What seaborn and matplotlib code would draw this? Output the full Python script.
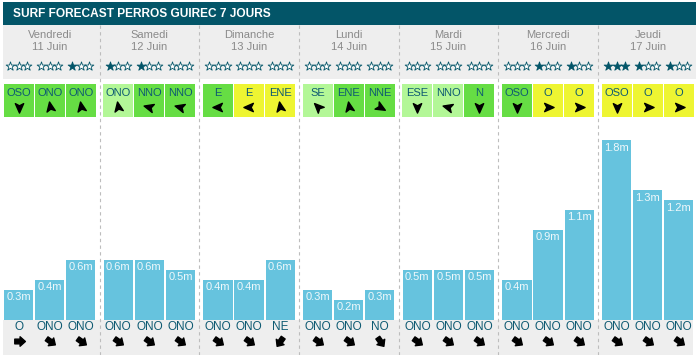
import numpy as np
import pandas as pd
import matplotlib
matplotlib.use("Agg")
import matplotlib.pyplot as plt
import seaborn as sns
from matplotlib.patches import Rectangle
from matplotlib.path import Path
from matplotlib.markers import MarkerStyle
from matplotlib.transforms import Affine2D

# ---------------- data ----------------
title = "SURF FORECAST PERROS GUIREC 7 JOURS"
days = ["Vendredi", "Samedi", "Dimanche", "Lundi", "Mardi", "Mercredi", "Jeudi"]
dates = ["11 Juin", "12 Juin", "13 Juin", "14 Juin", "15 Juin", "16 Juin", "17 Juin"]
wave_heights = [0.3, 0.4, 0.6, 0.6, 0.6, 0.5, 0.4, 0.4, 0.6, 0.3, 0.2, 0.3,
                0.5, 0.5, 0.5, 0.4, 0.9, 1.1, 1.8, 1.3, 1.2]
stars = [0, 0, 1, 1, 1, 0, 0, 0, 0, 0, 0, 0, 0, 0, 0, 0, 1, 1, 3, 1, 1]
wind_dirs = ["OSO", "ONO", "ONO", "ONO", "NNO", "NNO", "E", "E", "ENE",
             "SE", "ENE", "NNE", "ESE", "NNO", "N", "OSO", "O", "O", "OSO", "O", "O"]
wind_class = ["G", "G", "G", "L", "G", "G", "G", "Y", "Y", "L", "G", "G",
              "L", "L", "G", "G", "Y", "Y", "Y", "Y", "Y"]
wind_arrow_angles = [-90, 100, 100, 100, 165, 165, 180, 180, 100, 135, 100, -30,
                     -90, 165, -90, -90, 0, 0, -90, 0, 0]
swell_dirs = ["O", "ONO", "ONO", "ONO", "ONO", "ONO", "ONO", "ONO", "NE",
              "ONO", "ONO", "NO", "ONO", "ONO", "ONO", "ONO", "ONO", "ONO",
              "ONO", "ONO", "ONO"]
swell_arrow_angles = {"O": 0, "ONO": -35, "NE": -125, "NO": -55}
slots = ["a", "b", "c"]

# ---------------- styles ----------------
TEAL = "#035568"
TXT_TEAL = "#0e5a72"
GREY_BG = "#eeeeee"
BAR = "#66c3de"
BOX_COL = {"G": "#66dd44", "L": "#b3f797", "Y": "#eef532"}
FONT = "Liberation Sans"

W, H = 696, 355
fig = plt.figure(figsize=(W / 100, H / 100), dpi=100)
ax = fig.add_axes([0, 0, 1, 1])

DAY_PX = 99.67
X0_PX = 49.7


def xd(px):
    return (px - X0_PX) / DAY_PX


def yd(py):
    return (320 - py) / 100.0


df = pd.DataFrame({
    "day": np.repeat(days, 3),
    "slot": slots * 7,
    "height": wave_heights,
})

group_w = 0.935
sns.barplot(data=df, x="day", y="height", hue="slot", order=days, hue_order=slots,
            palette=[BAR] * 3, width=group_w, gap=0.06, errorbar=None,
            legend=False, saturation=1, ax=ax, zorder=2, linewidth=0)

ax.set_xlim(xd(0), xd(W))
ax.set_ylim(yd(H), yd(0))
ax.set_axis_off()

# backgrounds
ax.add_patch(Rectangle((xd(3), yd(25)), xd(696) - xd(3), yd(2) - yd(25),
                       facecolor=TEAL, edgecolor="none", zorder=0))
ax.add_patch(Rectangle((xd(3), yd(79)), xd(696) - xd(3), yd(25) - yd(79),
                       facecolor=GREY_BG, edgecolor="none", zorder=0))
ax.add_patch(Rectangle((xd(3), yd(355)), xd(693) - xd(3), yd(320) - yd(355),
                       facecolor=GREY_BG, edgecolor="none", zorder=0))

ax.text(xd(13), yd(13.5), title, color="white", fontsize=8.6, fontweight="bold",
        family=FONT, va="center", ha="left", zorder=5)

# separators
for d in range(6):
    ax.plot([d + 0.5, d + 0.5], [yd(25), yd(355)], color="#bdbdbd", lw=0.8,
            linestyle=(0, (3, 3)), zorder=1)

# arrow paths
head_path = Path([(1, 0), (-0.7, 0.75), (-0.3, 0), (-0.7, -0.75), (1, 0)],
                 [Path.MOVETO, Path.LINETO, Path.LINETO, Path.LINETO, Path.CLOSEPOLY])
fat_path = Path([(1, 0), (0.1, 0.8), (0.1, 0.4), (-0.8, 0.4), (-0.8, -0.4),
                 (0.1, -0.4), (0.1, -0.8), (1, 0)],
                [Path.MOVETO] + [Path.LINETO] * 6 + [Path.CLOSEPOLY])

slot_step = group_w / 3
box_w = xd(30) - xd(0)
star_dx = xd(8.6) - xd(0)

for d in range(7):
    ax.text(d, yd(35), days[d], color="#8a8a8a", fontsize=8, family=FONT,
            ha="center", va="center", zorder=5)
    ax.text(d, yd(46.5), dates[d], color="#8a8a8a", fontsize=8, family=FONT,
            ha="center", va="center", zorder=5)
    for s in range(3):
        i = d * 3 + s
        xc = d + (s - 1) * slot_step
        # stars
        for k in range(3):
            filled = k < stars[i]
            ax.scatter([xc + (k - 1) * star_dx], [yd(66)], marker="*", s=44,
                       facecolor=TEAL if filled else "white", edgecolor=TEAL,
                       linewidth=0.6, zorder=5)
        # wind box
        ax.add_patch(Rectangle((xc - box_w / 2, yd(117)), box_w, yd(84) - yd(117),
                               facecolor=BOX_COL[wind_class[i]], edgecolor="none",
                               zorder=3))
        ax.text(xc, yd(92.5), wind_dirs[i], color=TXT_TEAL, fontsize=8, family=FONT,
                ha="center", va="center", zorder=5)
        mk = MarkerStyle(head_path, transform=Affine2D().rotate_deg(wind_arrow_angles[i]))
        ax.plot([xc], [yd(106.5)], marker=mk, markersize=8, color="black",
                linestyle="none", zorder=5)
        # bar label
        h = wave_heights[i]
        ax.text(xc, h - 0.075, f"{h}m", color="#eef8fb", fontsize=8, family=FONT,
                ha="center", va="center", zorder=5)
        # swell
        ax.text(xc, yd(327.5), swell_dirs[i], color=TXT_TEAL, fontsize=8.5, family=FONT,
                ha="center", va="center", zorder=5)
        mk2 = MarkerStyle(fat_path,
                          transform=Affine2D().rotate_deg(swell_arrow_angles[swell_dirs[i]]))
        ax.plot([xc], [yd(341)], marker=mk2, markersize=8.5, color="black",
                linestyle="none", zorder=5)

fig.savefig("out.png", dpi=100, facecolor="white")
